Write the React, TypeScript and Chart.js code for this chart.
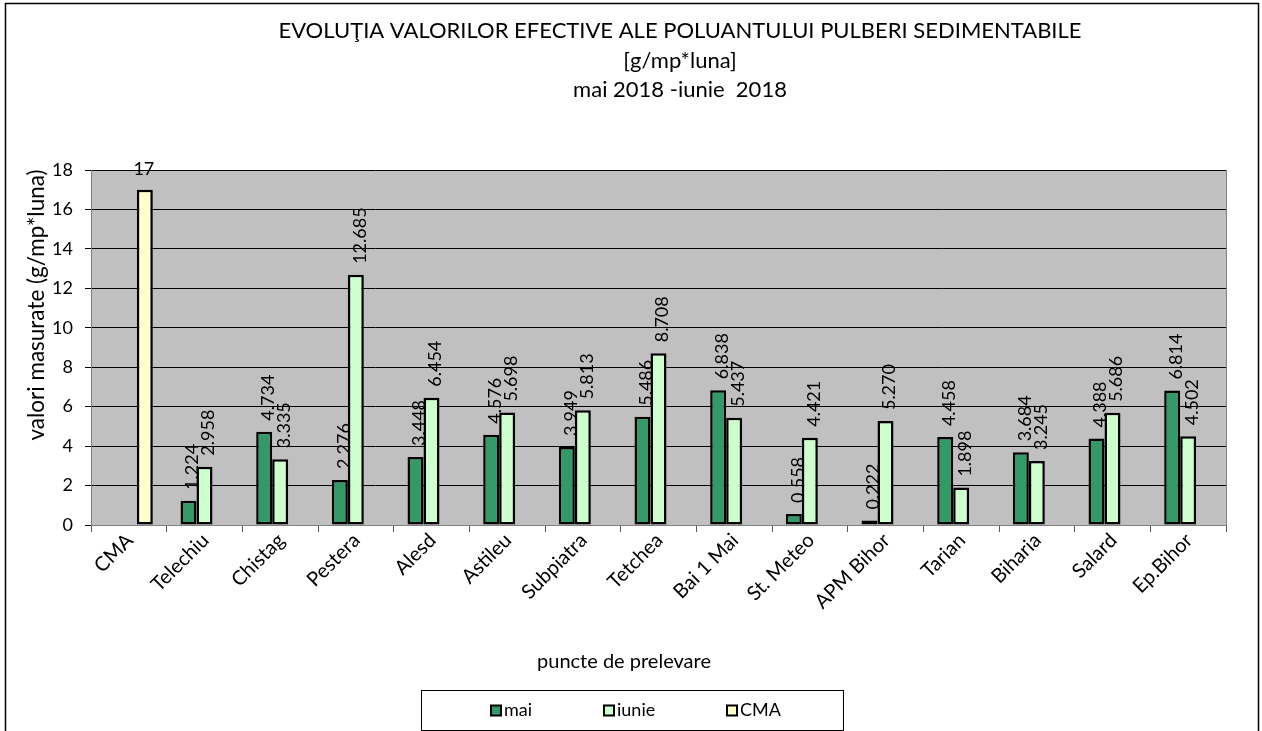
import React, { useEffect, useRef } from 'react';
import { Chart, registerables } from 'chart.js';

Chart.register(...registerables);

const FONT = 'Lato, "Liberation Sans", sans-serif';

const titleLines = [
  'EVOLUŢIA VALORILOR EFECTIVE ALE POLUANTULUI PULBERI SEDIMENTABILE',
  '[g/mp*luna]',
  'mai 2018 -iunie  2018',
];
const xAxisTitle = 'puncte de prelevare';
const yAxisTitle = 'valori masurate (g/mp*luna)';

const categories = [
  'CMA', 'Telechiu', 'Chistag', 'Pestera', 'Alesd', 'Astileu', 'Subpiatra', 'Tetchea',
  'Bai 1 Mai', 'St. Meteo', 'APM Bihor', 'Tarian', 'Biharia', 'Salard', 'Ep.Bihor',
];
const maiValues = [null, 1.224, 4.734, 2.276, 3.448, 4.576, 3.949, 5.486, 6.838, 0.558, 0.222, 4.458, 3.684, 4.388, 6.814];
const iunieValues = [null, 2.958, 3.335, 12.685, 6.454, 5.698, 5.813, 8.708, 5.437, 4.421, 5.27, 1.898, 3.245, 5.686, 4.502];
const cmaValues = [17, null, null, null, null, null, null, null, null, null, null, null, null, null, null];

const seriesNames = ['mai', 'iunie', 'CMA'];
const seriesColors = ['#339966', '#CCFFCC', '#FFFFCC'];
const yMin = 0;
const yMax = 18;
const yStep = 2;

const decorPlugin = {
  id: 'decor',
  beforeDraw(chart: any) {
    const { ctx, chartArea: a } = chart;
    ctx.save();
    ctx.fillStyle = '#ffffff';
    ctx.fillRect(0, 0, chart.width, chart.height);
    ctx.fillStyle = '#C0C0C0';
    ctx.fillRect(a.left, a.top, a.right - a.left, a.bottom - a.top);
    ctx.restore();
  },
  afterDatasetsDraw(chart: any) {
    const { ctx } = chart;
    ctx.save();
    ctx.fillStyle = '#000';
    ctx.font = `18px ${FONT}`;
    chart.data.datasets.forEach((ds: any, i: number) => {
      const meta = chart.getDatasetMeta(i);
      meta.data.forEach((el: any, j: number) => {
        const v = ds.data[j];
        if (v === null || v === undefined) return;
        if (i === 2) {
          ctx.textAlign = 'center';
          ctx.textBaseline = 'alphabetic';
          ctx.fillText(String(v), el.x - 1, el.y - 15);
        } else {
          ctx.save();
          ctx.translate(el.x + 4, el.y - 11);
          ctx.rotate(-Math.PI / 2);
          ctx.textAlign = 'left';
          ctx.textBaseline = 'middle';
          ctx.fillText(v.toFixed(3), 0, 0);
          ctx.restore();
        }
      });
    });
    ctx.restore();
  },
  afterDraw(chart: any) {
    const { ctx, chartArea: a } = chart;
    ctx.save();
    // plot frame right
    ctx.strokeStyle = '#808080';
    ctx.lineWidth = 1;
    ctx.beginPath();
    ctx.moveTo(a.right + 0.5, a.top);
    ctx.lineTo(a.right + 0.5, a.bottom);
    ctx.stroke();

    // category labels, rotated 45 degrees, at the x scale's tick positions
    const xs = chart.scales.x;
    ctx.fillStyle = '#000';
    ctx.font = `20px ${FONT}`;
    ctx.textAlign = 'right';
    ctx.textBaseline = 'middle';
    chart.data.labels.forEach((lab: string, i: number) => {
      const px = xs.getPixelForTick(i);
      ctx.save();
      ctx.translate(px + 1, a.bottom + 12);
      ctx.rotate(-Math.PI / 4);
      ctx.fillText(lab, 0, 0);
      ctx.restore();
    });

    // outer border
    ctx.strokeStyle = '#000';
    ctx.lineWidth = 1.5;
    ctx.beginPath();
    ctx.moveTo(5.5, 740);
    ctx.lineTo(5.5, 3.5);
    ctx.lineTo(1258.5, 3.5);
    ctx.lineTo(1258.5, 740);
    ctx.stroke();

    // title
    ctx.fillStyle = '#000';
    ctx.textAlign = 'center';
    ctx.textBaseline = 'alphabetic';
    ctx.font = `22px ${FONT}`;
    const tb = [38, 68, 97];
    titleLines.forEach((t, k) => ctx.fillText(t, 680, tb[k]));

    // x axis title
    ctx.font = `20px ${FONT}`;
    ctx.textBaseline = 'middle';
    ctx.fillText(xAxisTitle, 624, 662);

    // y axis title
    ctx.save();
    ctx.font = `22.5px ${FONT}`;
    ctx.translate(37, 305);
    ctx.rotate(-Math.PI / 2);
    ctx.fillText(yAxisTitle, 0, 0);
    ctx.restore();

    // legend
    ctx.strokeStyle = '#000';
    ctx.lineWidth = 1;
    ctx.strokeRect(421.5, 690.5, 422, 40);
    const lx = [491, 604, 727];
    ctx.font = `18px ${FONT}`;
    ctx.textAlign = 'left';
    ctx.textBaseline = 'alphabetic';
    chart.data.datasets.forEach((ds: any, i: number) => {
      ctx.fillStyle = ds.backgroundColor;
      ctx.fillRect(lx[i], 705.5, 10, 10);
      ctx.lineWidth = 2;
      ctx.strokeStyle = '#000';
      ctx.strokeRect(lx[i], 705.5, 10, 10);
      ctx.fillStyle = '#000';
      ctx.fillText(ds.label, lx[i] + 13, 716);
    });
    ctx.restore();
  },
};

export default function App() {
  const ref = useRef<HTMLCanvasElement | null>(null);
  useEffect(() => {
    if (!ref.current) return;
    const datasets = [maiValues, iunieValues, cmaValues].map((d, i) => ({
      label: seriesNames[i],
      data: d,
      backgroundColor: seriesColors[i],
      borderColor: '#000',
      borderWidth: 2.5,
      borderSkipped: false,
      barPercentage: 1,
      categoryPercentage: 0.634,
    }));
    const chart = new Chart(ref.current, {
      type: 'bar',
      data: { labels: categories, datasets },
      plugins: [decorPlugin],
      options: {
        responsive: false,
        animation: false,
        devicePixelRatio: 1,
        layout: { padding: { left: 0, top: 170, right: 36, bottom: 0 } },
        plugins: {
          legend: { display: false },
          title: { display: false },
          tooltip: { enabled: false },
        },
        scales: {
          x: {
            grid: { display: true, drawOnChartArea: false, drawTicks: true, tickLength: 7, color: '#555', offset: true },
            border: { color: '#808080', width: 1 },
            ticks: { display: false, autoSkip: false },
            afterFit: (s: any) => { s.height = 206; },
          },
          y: {
            min: yMin,
            max: yMax,
            ticks: { stepSize: yStep, font: { family: FONT, size: 18 }, color: '#000', padding: 12 },
            grid: { color: '#000', tickLength: 6, drawTicks: true },
            border: { color: '#808080', width: 1 },
            afterFit: (s: any) => { s.width = 91; },
          },
        },
      } as any,
    });
    return () => chart.destroy();
  }, []);
  return (
    <div style={{ position: 'fixed', left: 0, top: 0, width: 1262, height: 731, background: '#fff' }}>
      <canvas ref={ref} width={1262} height={731} style={{ display: 'block', width: 1262, height: 731 }} />
    </div>
  );
}
